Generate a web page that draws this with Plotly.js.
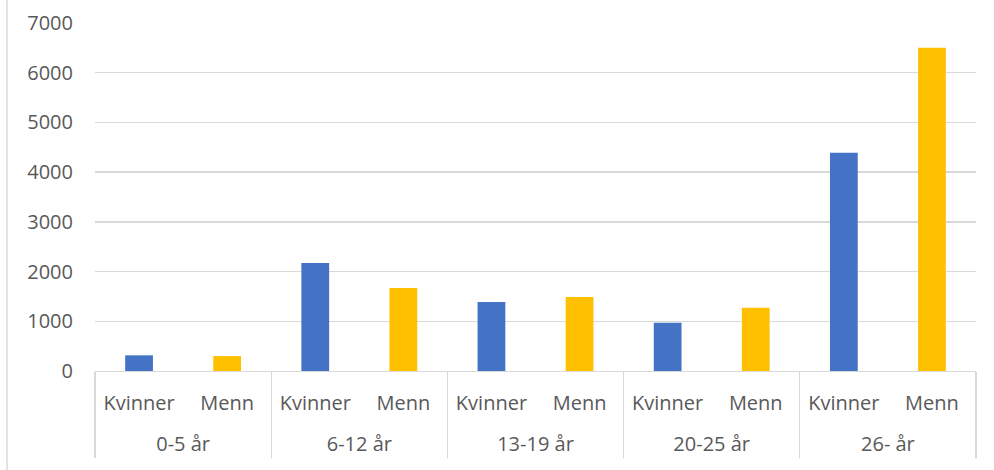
<!DOCTYPE html>
<html>
<head>
<meta charset="utf-8">
<script src="https://cdn.plot.ly/plotly-3.0.1.min.js"></script>
<style>
html,body{margin:0;padding:0;background:#fff;}
#chart{width:994px;height:470px;}
</style>
</head>
<body>
<div id="chart"></div>
<script>
const groups = ["0-5 år", "6-12 år", "13-19 år", "20-25 år", "26- år"];
const kvinnerLabel = "Kvinner";
const mennLabel = "Menn";
const kvinner = [315, 2170, 1390, 970, 4390];
const menn = [300, 1670, 1490, 1270, 6500];
const yTicks = [0, 1000, 2000, 3000, 4000, 5000, 6000, 7000];

const font = {family: "'Open Sans', 'Noto Sans', sans-serif", size: 20, color: "#595959"};
// extra blank line above each group label pushes it down like the reference
const groupLabels = groups.map(g => "<br>" + g);

const traces = [
  {
    type: "bar",
    name: kvinnerLabel,
    x: [groupLabels, groups.map(() => kvinnerLabel)],
    y: kvinner,
    width: 0.315,
    marker: {color: "#4472C4"},
    hoverinfo: "y"
  },
  {
    type: "bar",
    name: mennLabel,
    x: [groupLabels, groups.map(() => mennLabel)],
    y: menn,
    width: 0.315,
    marker: {color: "#FFC000"},
    hoverinfo: "y"
  }
];

const layout = {
  width: 994,
  height: 470,
  margin: {l: 95, r: 18, t: 23, b: 99},
  paper_bgcolor: "#fff",
  plot_bgcolor: "#fff",
  font: font,
  showlegend: false,
  barmode: "overlay",
  xaxis: {
    type: "multicategory",
    showgrid: false,
    showline: true,
    linecolor: "#D9D9D9",
    linewidth: 1.3,
    ticks: "",
    ticklabelstandoff: 14,
    showdividers: true,
    dividercolor: "#D9D9D9",
    dividerwidth: 1.3,
    tickfont: font,
    fixedrange: true
  },
  yaxis: {
    range: [0, 7000],
    tickvals: yTicks,
    ticktext: yTicks.map(String),
    showgrid: true,
    gridcolor: "#D9D9D9",
    gridwidth: 1.3,
    zeroline: false,
    showline: false,
    ticks: "",
    ticklabelstandoff: 21,
    tickfont: font,
    fixedrange: true
  },
  shapes: [
    {
      type: "line",
      xref: "paper", yref: "paper",
      x0: -0.0999, x1: -0.0999,
      y0: -0.29, y1: 1.07,
      line: {color: "#D9D9D9", width: 1.5}
    }
  ]
};

Plotly.newPlot("chart", traces, layout, {displayModeBar: false, staticPlot: true});
</script>
</body>
</html>
